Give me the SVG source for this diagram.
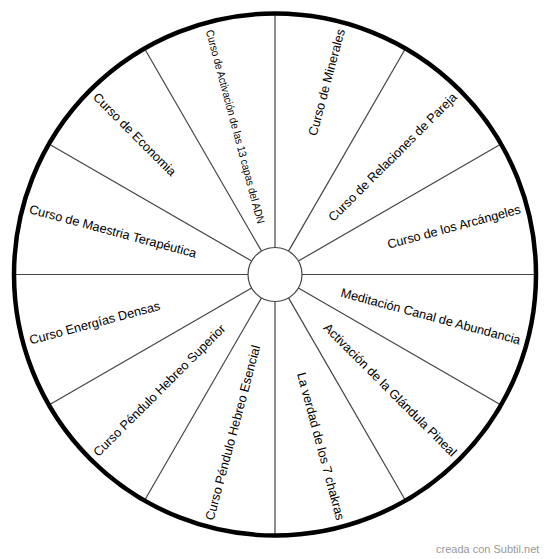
<svg xmlns="http://www.w3.org/2000/svg" width="550" height="559" viewBox="0 0 550 559">
<style>
  .spoke { stroke: #444; stroke-width: 1.2; fill: none; }
  .lbl { font-family: "Liberation Sans", Arial, sans-serif; font-size: 12.7px; fill: #000; }
  .r { text-anchor: end; }
  .l { text-anchor: start; }
  .wm { font-family: "Liberation Sans", Arial, sans-serif; font-size: 11px; fill: #999; }
</style>
<rect width="550" height="559" fill="#fff"/>
<g id="wheel" transform="translate(275,274.5)">
  <circle id="outer" r="261" fill="#fff" stroke="none"/>
  <g id="connectors">
    <line class="spoke" x1="27" y1="0" x2="261" y2="0" transform="rotate(0)"/>
    <line class="spoke" x1="27" y1="0" x2="261" y2="0" transform="rotate(30)"/>
    <line class="spoke" x1="27" y1="0" x2="261" y2="0" transform="rotate(60)"/>
    <line class="spoke" x1="27" y1="0" x2="261" y2="0" transform="rotate(90)"/>
    <line class="spoke" x1="27" y1="0" x2="261" y2="0" transform="rotate(120)"/>
    <line class="spoke" x1="27" y1="0" x2="261" y2="0" transform="rotate(150)"/>
    <line class="spoke" x1="27" y1="0" x2="261" y2="0" transform="rotate(180)"/>
    <line class="spoke" x1="27" y1="0" x2="261" y2="0" transform="rotate(210)"/>
    <line class="spoke" x1="27" y1="0" x2="261" y2="0" transform="rotate(240)"/>
    <line class="spoke" x1="27" y1="0" x2="261" y2="0" transform="rotate(270)"/>
    <line class="spoke" x1="27" y1="0" x2="261" y2="0" transform="rotate(300)"/>
    <line class="spoke" x1="27" y1="0" x2="261" y2="0" transform="rotate(330)"/>
  </g>
  <circle r="261" fill="none" stroke="#000" stroke-width="4.5"/>
  <circle id="hub" r="27" fill="#fff" stroke="#444" stroke-width="1.2"/>
  <g id="s1"><text class="lbl r" transform="rotate(-75)" x="254" y="0" dy="0.35em">Curso de Minerales</text></g>
  <g id="s2"><text class="lbl r" transform="rotate(-45)" x="254" y="0" dy="0.35em">Curso de Relaciones de Pareja</text></g>
  <g id="s3"><text class="lbl r" transform="rotate(-15)" x="254" y="0" dy="0.35em">Curso de los Arcángeles</text></g>
  <g id="s4"><text class="lbl r" transform="rotate(15)" x="254" y="0" dy="0.35em">Meditación Canal de Abundancia</text></g>
  <g id="s5"><text class="lbl r" transform="rotate(45)" x="254" y="0" dy="0.35em">Activación de la Glándula Pineal</text></g>
  <g id="s6"><text class="lbl r" transform="rotate(75)" x="254" y="0" dy="0.35em">La verdad de los 7 chakras</text></g>
  <g id="s7"><text class="lbl l" transform="rotate(-75)" x="-254" y="0" dy="0.35em">Curso Péndulo Hebreo Esencial</text></g>
  <g id="s8"><text class="lbl l" transform="rotate(-45)" x="-254" y="0" dy="0.35em">Curso Péndulo Hebreo Superior</text></g>
  <g id="s9"><text class="lbl l" transform="rotate(-15)" x="-254" y="0" dy="0.35em">Curso Energías Densas</text></g>
  <g id="s10"><text class="lbl l" transform="rotate(15)" x="-254" y="0" dy="0.35em">Curso de Maestria Terapéutica</text></g>
  <g id="s11"><text class="lbl l" transform="rotate(45)" x="-254" y="0" dy="0.35em">Curso de Economia</text></g>
  <g id="s12"><text class="lbl l" transform="rotate(75)" x="-253" y="0" dy="0.35em" style="font-size:11px" textLength="200" lengthAdjust="spacingAndGlyphs">Curso de Activación de las 13 capas del ADN</text></g>
</g>
<text class="wm" x="436" y="553">creada con Subtil.net</text>
</svg>
